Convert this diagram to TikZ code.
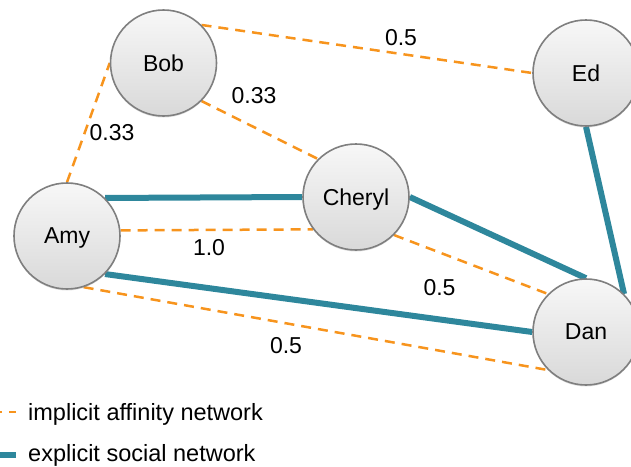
\documentclass[tikz,border=0pt]{standalone}
\usepackage{fontspec}
\setmainfont{Liberation Sans}
\usetikzlibrary{shadows,backgrounds}
\definecolor{teal2}{HTML}{2E879C}
\definecolor{orng}{HTML}{F7941D}
\definecolor{rimc}{HTML}{7F7F7F}
\begin{document}
\begin{tikzpicture}[x=1pt,y=-1pt,
  person/.style={circle,minimum size=106pt,inner sep=0pt,draw=rimc,line width=1.6pt,
    top color=gray!6,bottom color=gray!30,text depth=0pt,
    drop shadow={shadow xshift=0pt,shadow yshift=-1.5pt,opacity=0.25},
    font=\fontsize{23}{27}\selectfont},
  social/.style={draw=teal2,line width=6pt},
  affin/.style={draw=orng,line width=2.5pt,dash pattern=on 10pt off 7pt},
  wlabel/.style={font=\fontsize{23}{27}\selectfont,inner sep=0pt},
  legtext/.style={font=\fontsize{23.5}{28}\selectfont,inner sep=0pt,anchor=base west}]
\useasboundingbox (0,0) rectangle (631,466);
\node[person] (bob) at (163.5,63) {Bob};
\node[person] (amy) at (67,236) {Amy};
\node[person] (cheryl) at (356,197) {Cheryl};
\node[person] (ed) at (586,73) {Ed};
\node[person] (dan) at (586,332) {Dan};
\begin{scope}[on background layer]
  % implicit affinity network
  \draw[affin] (bob.45) -- (ed.west);
  \draw[affin] (bob.-45) -- (cheryl.135);
  \draw[affin] (amy.north) -- (bob.west);
  \draw[affin] (amy.6) -- (cheryl.217);
  \draw[affin] (cheryl.-45) -- (dan.135);
  \draw[affin] (amy.-72) -- (dan.225);
  % explicit social network
  \draw[social] (amy.45) -- (cheryl.west);
  \draw[social] (cheryl.east) -- (dan.north);
  \draw[social] (amy.-45) -- (dan.west);
  \draw[social] (ed.south) -- (dan.45);
\end{scope}
% weights
\node[wlabel] (w1) at (401,38) {0.5};
\node[wlabel] (w2) at (254,96) {0.33};
\node[wlabel] (w3) at (112,133) {0.33};
\node[wlabel] (w4) at (209,248) {1.0};
\node[wlabel] (w5) at (439.5,288) {0.5};
\node[wlabel] (w6) at (286,346) {0.5};
% legend
\coordinate (l1a) at (0,412);
\coordinate (l1b) at (16,412);
\coordinate (l2a) at (0,455);
\coordinate (l2b) at (16,455);
\draw[affin,dash pattern=on 2pt off 7pt on 7pt off 20pt] (l1a) -- (l1b);
\draw[social] (l2a) -- (l2b);
\node[legtext] (t1) at (28,420) {implicit affinity network};
\node[legtext] (t2) at (28,461) {explicit social network};
\end{tikzpicture}
\end{document}
